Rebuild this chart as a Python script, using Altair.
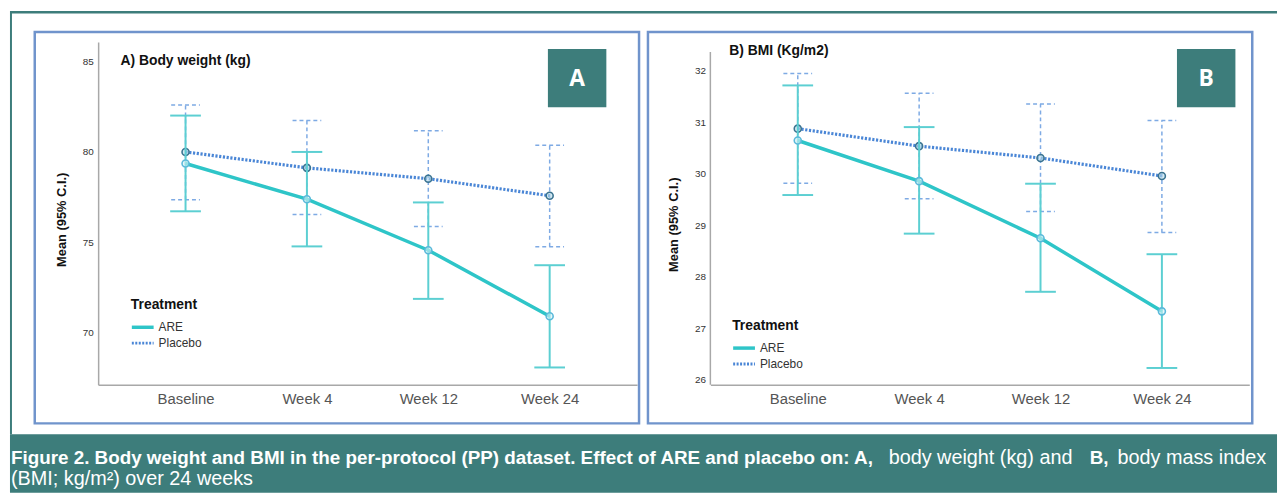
import altair as alt
import pandas as pd

# ---------------- data ----------------
weeks = ["Baseline", "Week 4", "Week 12", "Week 24"]
treatments = ["ARE", "Placebo"]

bw_are_mean = [79.34, 77.37, 74.55, 70.90]
bw_are_low = [76.70, 74.76, 71.86, 68.07]
bw_are_high = [81.99, 79.98, 77.19, 73.72]
bw_pla_mean = [79.98, 79.10, 78.50, 77.56]
bw_pla_low = [77.34, 76.52, 75.86, 74.74]
bw_pla_high = [82.57, 81.72, 81.15, 80.35]

bmi_are_mean = [30.65, 29.86, 28.75, 27.33]
bmi_are_low = [29.59, 28.84, 27.71, 26.23]
bmi_are_high = [31.72, 30.91, 29.81, 28.44]
bmi_pla_mean = [30.88, 30.54, 30.31, 29.96]
bmi_pla_low = [29.82, 29.52, 29.27, 28.86]
bmi_pla_high = [31.95, 31.57, 31.36, 31.04]

bw_ticks = [70, 75, 80, 85]
bmi_ticks = [26, 27, 28, 29, 30, 31, 32]

title_a = "A) Body weight (kg)"
title_b = "B) BMI (Kg/m2)"
y_title = "Mean (95% C.I.)"
legend_title = "Treatment"
cap_bold_1 = "Figure 2. Body weight and BMI in the per-protocol (PP) dataset. Effect of ARE and placebo on: A,"
cap_reg_1 = "body weight (kg) and"
cap_bold_2 = "B,"
cap_reg_2 = "body mass index"
cap_line_2 = "(BMI; kg/m\u00b2) over 24 weeks"

# ---------------- styles ----------------
TEAL = "#3d7d7b"
FRAME = "#7094cc"
ARE_C = "#2ec5c8"
ARE_EB = "#5ccfd2"
PLA_C = "#4a86d6"
PLA_EB = "#7eaae4"
AXC = "#a8a8a8"
FONT = "Liberation Sans"
W, H = 544, 346


def table(mean, low, high, name):
    return pd.DataFrame({"week": weeks, "mean": mean, "low": low, "high": high,
                         "treatment": name})


one = pd.DataFrame({"k": [0]})


def deco_rect(x, x2, y, y2, **kw):
    return alt.Chart(one).mark_rect(**kw).encode(
        x=alt.value(x), x2=alt.value(x2), y=alt.value(y), y2=alt.value(y2))


def deco_text(txt, x, y, **kw):
    return alt.Chart(pd.DataFrame({"t": [txt]})).mark_text(
        align="left", baseline="middle", **kw).encode(
        x=alt.value(x), y=alt.value(y), text="t:N")


def panel(are, pla, ydom, yticks, title, letter, title_pos, tx, ty, leg, show_domain):
    xenc = alt.X("week:N", sort=weeks,
                 scale=alt.Scale(type="point", domain=weeks, padding=0.72),
                 axis=alt.Axis(title=None, labelAngle=0, ticks=False, labelFontSize=15,
                               labelColor="#555555", labelFont=FONT, labelPadding=7,
                               domainColor=AXC, domainWidth=1.5, grid=False))
    yax = alt.Axis(title=y_title, values=yticks, ticks=False, grid=False,
                   domain=show_domain, domainColor=AXC, domainWidth=1.5,
                   labelFontSize=10, labelColor="#333333", labelFont=FONT, labelPadding=5,
                   titleFont=FONT, titleFontSize=13, titleFontWeight="bold",
                   titleColor="#111111", titleX=-37, titleY=ty, titleAlign="center",
                   titleBaseline="middle", titleAngle=270)
    ysc = alt.Scale(domain=ydom, nice=False, zero=False)

    def series(df, line_c, eb_c, line_kw, eb_kw, pt_stroke, pt_fill, capw):
        base = alt.Chart(df)
        bars = base.mark_rule(color=eb_c, **eb_kw).encode(
            x=xenc, y=alt.Y("low:Q", scale=ysc, axis=yax), y2="high:Q")
        cap_hi = base.mark_rule(color=eb_c, xOffset=-capw, x2Offset=capw, **eb_kw).encode(
            x=xenc, x2="week:N", y=alt.Y("high:Q", scale=ysc, axis=yax))
        cap_lo = base.mark_rule(color=eb_c, xOffset=-capw, x2Offset=capw, **eb_kw).encode(
            x=xenc, x2="week:N", y=alt.Y("low:Q", scale=ysc, axis=yax))
        line = base.mark_line(color=line_c, **line_kw).encode(
            x=xenc, y=alt.Y("mean:Q", scale=ysc, axis=yax))
        pts = base.mark_point(shape="circle", size=50, stroke=pt_stroke, fill=pt_fill,
                              fillOpacity=0.6, strokeWidth=1.6, opacity=1).encode(
            x=xenc, y=alt.Y("mean:Q", scale=ysc, axis=yax))
        return [bars, cap_hi, cap_lo, line, pts]

    layers = []
    layers += series(pla, PLA_C, PLA_EB, {"strokeWidth": 3.2, "strokeDash": [2.2, 1.6]},
                     {"strokeWidth": 1.5, "strokeDash": [4, 3]}, "#3a7390", "#b8dbe8", 14.5)
    layers += series(are, ARE_C, ARE_EB, {"strokeWidth": 3.5},
                     {"strokeWidth": 2}, "#5ab9da", "#d6f2f6", 15.5)

    # panel title and letter box
    layers.append(deco_text(title, title_pos[0], title_pos[1], font=FONT, fontSize=14,
                            fontWeight="bold", color="#111111"))
    bx = tx
    layers.append(deco_rect(bx, bx + 59, 7, 66, color=TEAL))
    layers.append(alt.Chart(pd.DataFrame({"t": [letter]})).mark_text(
        align="center", baseline="middle", font="Open Sans", fontSize=23,
        fontWeight="bold", color="white").encode(
        x=alt.value(bx + 29.5), y=alt.value(37), text="t:N"))

    # legend
    lx, ly = leg
    layers.append(deco_text(legend_title, lx, ly, font=FONT, fontSize=14,
                            fontWeight="bold", color="#111111"))
    styles = [(ARE_C, {"strokeWidth": 3.5}), (PLA_C, {"strokeWidth": 3, "strokeDash": [2, 1.5]})]
    for i, name in enumerate(treatments):
        c, kw = styles[i]
        yy = ly + 22 + i * 16
        layers.append(alt.Chart(pd.DataFrame({"t": [name]})).mark_rule(color=c, **kw).encode(
            x=alt.value(lx + 1), x2=alt.value(lx + 23), y=alt.value(yy)))
        layers.append(deco_text(name, lx + 28, yy, font=FONT, fontSize=12, color="#333333"))
    return layers


are_a = table(bw_are_mean, bw_are_low, bw_are_high, treatments[0])
pla_a = table(bw_pla_mean, bw_pla_low, bw_pla_high, treatments[1])
are_b = table(bmi_are_mean, bmi_are_low, bmi_are_high, treatments[0])
pla_b = table(bmi_pla_mean, bmi_pla_low, bmi_pla_high, treatments[1])

# decorations for the whole figure (drawn in panel A's coordinates)
deco_a = [
    deco_rect(-89, 1190, 396, 455, color=TEAL),
    alt.Chart(one).mark_rule(color=TEAL, strokeWidth=2.5).encode(
        x=alt.value(-89), x2=alt.value(1190), y=alt.value(-30)),
    alt.Chart(one).mark_rule(color=TEAL, strokeWidth=2).encode(
        x=alt.value(-88), y=alt.value(-30), y2=alt.value(396)),
    deco_rect(-64, 546, -10, 385, fillOpacity=0, stroke=FRAME, strokeWidth=2.5),
]
cap_b = dict(font=FONT, fontSize=19, color="white", fontWeight="bold")
cap_r = dict(font=FONT, fontSize=20, color="white")
caption = [
    deco_text(cap_bold_1, -88, 420, **cap_b),
    deco_text(cap_reg_1, 798, 420, **cap_r),
    deco_text(cap_bold_2, 1001, 420, **cap_b),
    deco_text(cap_reg_2, 1029, 420, **cap_r),
    deco_text(cap_line_2, -88, 441, **cap_r),
]

panel_a = alt.layer(
    *deco_a,
    *panel(are_a, pla_a, [67.115, 86.057], bw_ticks, title_a, "A", (22.5, 19), 454, 179,
           (33, 266), True),
    *caption,
).properties(width=W, height=H)

deco_b = [
    deco_rect(-63, 547, -10, 385, fillOpacity=0, stroke=FRAME, strokeWidth=2.5),
    alt.Chart(one).mark_rule(color=AXC, strokeWidth=1.5).encode(
        x=alt.value(0), y=alt.value(10), y2=alt.value(H)),
]
panel_b = alt.layer(
    *deco_b,
    *panel(are_b, pla_b, [25.904, 32.564], bmi_ticks, title_b, "B", (19, 9), 471, 184,
           (22, 287), False),
).properties(width=W, height=H)

chart = alt.hconcat(panel_a, panel_b, spacing=74, bounds="flush").properties(
    autosize=alt.AutoSizeParams(type="pad"), padding=0, background="white"
).configure_view(stroke=None)

chart.save("out.html", embed_options={"renderer": "svg", "actions": False})
